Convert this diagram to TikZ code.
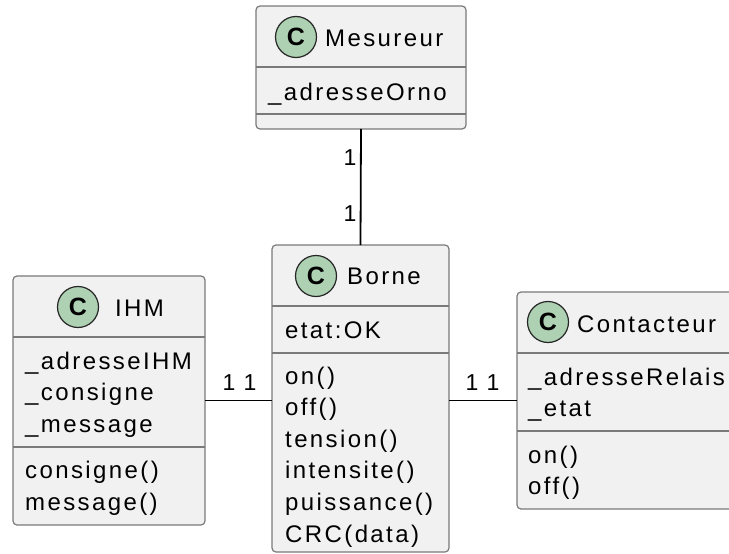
\documentclass[tikz,border=0pt]{standalone}
\usepackage{fontspec}
\setmainfont{Liberation Sans}[LetterSpace=10]
\newfontfamily\badgefam{Liberation Sans}[BoldFont={Liberation Sans Bold}]
\definecolor{boxfill}{HTML}{F1F1F1}
\definecolor{boxline}{HTML}{7A7A7A}
\definecolor{badgegreen}{HTML}{ADD1B2}
\tikzset{
  classbox/.style={draw=boxline, fill=boxfill, rounded corners=4pt, line width=1.2pt, anchor=north west, inner sep=0pt, outer sep=0pt},
  divider/.style={draw=boxline, line width=1.2pt},
  mem/.style={anchor=base west, inner sep=0pt, font=\fontsize{24}{28}\selectfont},
  ttl/.style={anchor=base west, inner sep=0pt, font=\fontsize{24}{28}\selectfont},
  badge/.style={circle, draw=black!85, fill=badgegreen, minimum size=41pt, inner sep=0pt, line width=1.2pt, font=\badgefam\bfseries\fontsize{25}{28}\selectfont},
  conn/.style={draw=black, line width=1.8pt},
  mult/.style={inner sep=0pt, font=\fontsize{23}{26}\selectfont}
}
\begin{document}
\begin{tikzpicture}[x=1pt,y=-1pt]
\useasboundingbox (0,0) rectangle (729,554);
\clip (0,0) rectangle (729,554);
\fill[white] (0,0) rectangle (729,554);

% Mesureur
\node[classbox, minimum width=210pt, minimum height=123pt] (mes) at (256,6) {};
\draw[divider] (256,67) -- (466,67);
\draw[divider] (256,114) -- (466,114);
\node[badge] (mesC) at (296,37) {C};
\node[ttl] (mesT) at (325,46) {Mesureur};
\node[mem] (mesA) at (268,100) {\_adresseOrno};

% Borne
\node[classbox, minimum width=177pt, minimum height=307pt] (borne) at (272,245) {};
\draw[divider] (272,306) -- (449,306);
\draw[divider] (272,353) -- (449,353);
\node[badge] (borneC) at (316,276) {C};
\node[ttl] (borneT) at (347,284) {Borne};
\node[mem] (borneA) at (285,338) {etat:OK};
\node[mem] (borneM1) at (285,384) {on()};
\node[mem] (borneM2) at (285,415.6) {off()};
\node[mem] (borneM3) at (285,447.2) {tension()};
\node[mem] (borneM4) at (285,478.8) {intensite()};
\node[mem] (borneM5) at (285,510.4) {puissance()};
\node[mem] (borneM6) at (285,542) {CRC(data)};

% IHM
\node[classbox, minimum width=192pt, minimum height=249pt] (ihm) at (13,276) {};
\draw[divider] (13,337) -- (205,337);
\draw[divider] (13,447) -- (205,447);
\node[badge] (ihmC) at (78,307) {C};
\node[ttl] (ihmT) at (115,316) {IHM};
\node[mem] (ihmA1) at (25,369) {\_adresseIHM};
\node[mem] (ihmA2) at (25,400.6) {\_consigne};
\node[mem] (ihmA3) at (25,432.2) {\_message};
\node[mem] (ihmM1) at (25,478) {consigne()};
\node[mem] (ihmM2) at (25,510) {message()};

% Contacteur
\node[classbox, minimum width=260pt, minimum height=217pt] (cont) at (517,292) {};
\draw[divider] (517,353) -- (777,353);
\draw[divider] (517,431) -- (777,431);
\node[badge] (contC) at (548,322) {C};
\node[ttl] (contT) at (577,332) {Contacteur};
\node[mem] (contA1) at (528,385) {\_adresseRelais};
\node[mem] (contA2) at (528,416.6) {\_etat};
\node[mem] (contM1) at (528,463) {on()};
\node[mem] (contM2) at (528,494.6) {off()};

% connectors
\draw[conn] (mes.south) -- (borne.north);
\draw[conn] (ihm.east) -- (ihm.east -| borne.west);
\draw[conn] (cont.west -| borne.east) -- (cont.west);

% multiplicities
\node[mult] (m1) at (350,158) {1};
\node[mult] (m2) at (350,214) {1};
\node[mult] (m3) at (229,383) {1};
\node[mult] (m4) at (250,383) {1};
\node[mult] (m5) at (472,383) {1};
\node[mult] (m6) at (493,383) {1};
\end{tikzpicture}
\end{document}
